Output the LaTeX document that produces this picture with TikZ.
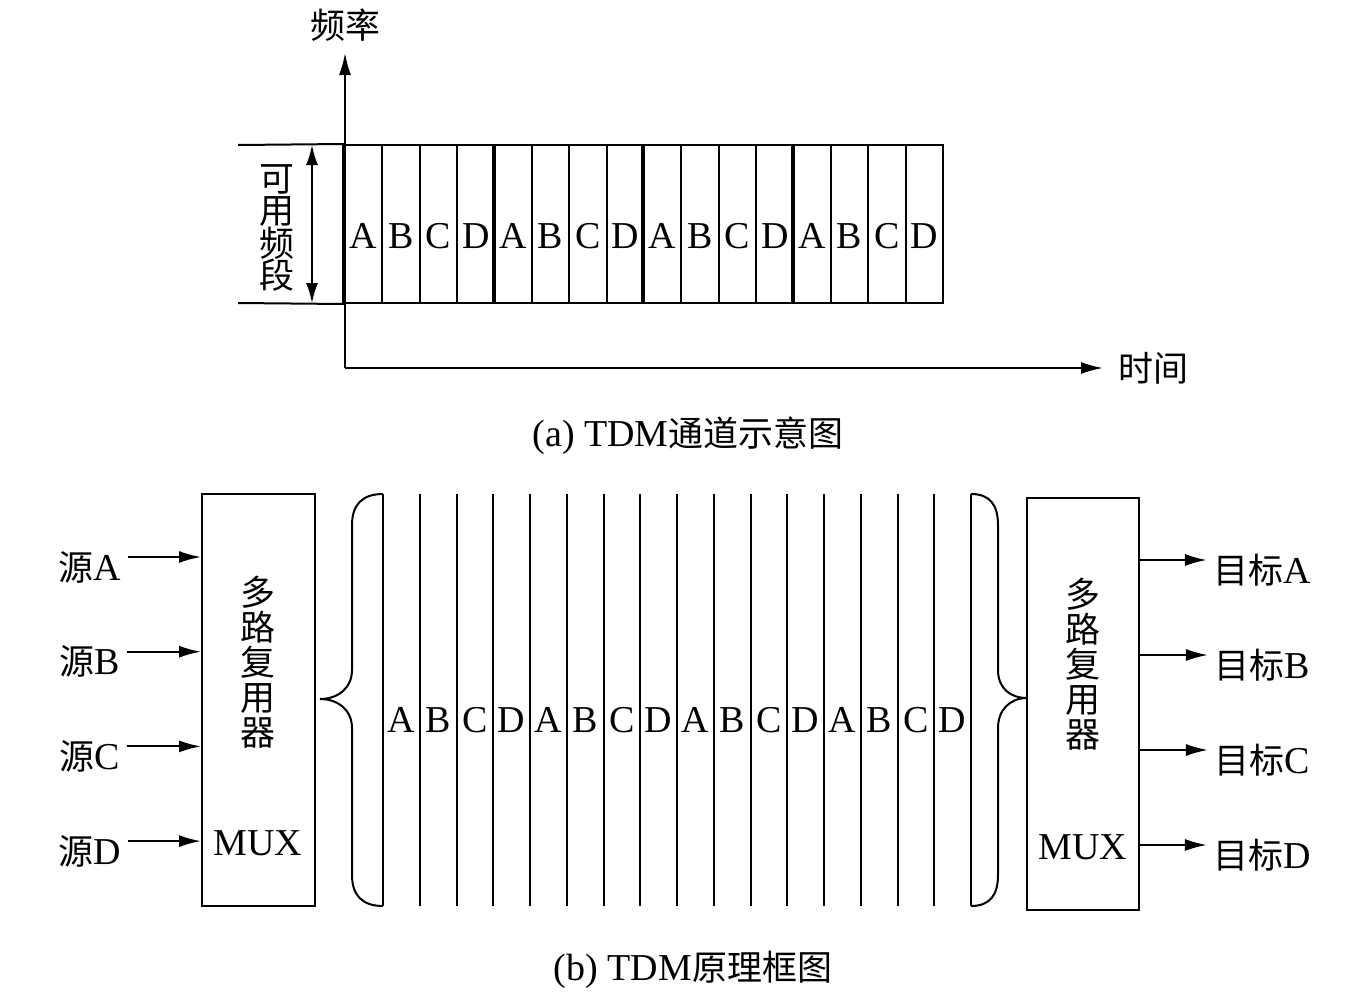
\documentclass[tikz,border=0pt]{standalone}
\usepackage{fontspec}
\setmainfont{Liberation Serif}
\newfontfamily\cjk{Noto Sans CJK SC}[Scale=0.92]
\newcommand{\zh}[1]{{\cjk #1}}
\usetikzlibrary{positioning, arrows.meta, calc}
\tikzstyle{every node}=[font=\fontsize{19}{22}\selectfont]
\tikzstyle{thin}=[line width=1pt, draw=black]
\tikzstyle{thickline}=[line width=2pt, draw=black]
\tikzstyle{arrow}=[-{Latex[length=11pt,width=6pt]}, line width=1pt]
\tikzstyle{dblarrow}=[{Latex[length=10pt,width=6pt]}-{Latex[length=10pt,width=6pt]}, line width=1pt]
\tikzstyle{cell}=[rectangle, thin, minimum width=18.69pt, minimum height=79pt, inner sep=0pt]
\tikzstyle{letter}=[inner sep=0pt, text height=12.6pt, text depth=0pt]
\tikzstyle{muxbox}=[rectangle, thin, minimum width=56.5pt, minimum height=206pt, inner sep=0pt]
\tikzstyle{vtext}=[align=center, inner sep=0pt, font=\fontsize{19}{17.5}\selectfont]
\tikzstyle{iolabel}=[inner sep=3pt, text height=23pt, text depth=0pt]

\begin{document}
\begin{tikzpicture}[x=0.5pt, y=-0.5pt]
      \useasboundingbox (0,0) rectangle (1346,996);
      % (a) channel sketch
      \coordinate (origin) at (345,368);
      \coordinate (fTip) at (345,53);
      \coordinate (tTip) at (1103,368);
      \foreach \g in {0,...,3}
        \foreach \ch [count=\k from 0] in {A,B,C,D} {
          \node (ta-\g-\ch) [cell] at ({345+37.375*(4*\g+\k+0.5)},224) {};
          \node [letter] at ([yshift=-6pt]ta-\g-\ch.center) {\ch};
        }
      \foreach \g in {0,...,3}
        \draw [thickline] (ta-\g-A.north west) -- (ta-\g-A.south west);
      \coordinate (bandTL) at (238,145);
      \coordinate (bandBL) at (238,303);
      \draw [thin] (bandTL) -- (ta-0-A.north west);
      \draw [thin] (bandBL) -- (ta-0-A.south west);
      \coordinate (bandTop) at (312,145);
      \coordinate (bandBot) at (312,303);
      \draw [dblarrow] (bandTop) -- (bandBot);
      \node (bandLabel) [vtext, font=\fontsize{19}{16.25}\selectfont] at (277,228)
        {\zh{可}\\\zh{用}\\\zh{频}\\\zh{段}};
      \draw [arrow] (origin) -- (fTip);
      \draw [arrow] (origin) -- (tTip);
      \node (freq) at (345,25) {\zh{频率}};
      \node (time) [right=4pt of tTip] {\zh{时间}};
      \node (capA) at (688,436) {(a) TDM\zh{通道示意图}};

      % (b) block diagram
      \node (muxL) [muxbox] at (258.5,700) {};
      \node (muxR) [muxbox, minimum width=56pt] at (1083,703.5) {};
      \node (muxLtxt) [vtext] at (258,662) {\zh{多}\\\zh{路}\\\zh{复}\\\zh{用}\\\zh{器}};
      \node (muxRtxt) [vtext] at (1083,664) {\zh{多}\\\zh{路}\\\zh{复}\\\zh{用}\\\zh{器}};
      \node (muxLname) at (258,843) {MUX};
      \node (muxRname) at (1083,847) {MUX};
      \foreach \s [count=\k from 0] in {A,B,C,D} {
        \node (src\s) [iolabel] at (90,{557+94.7*\k}) {\zh{源}\s};
        \draw [arrow] (src\s.east) -- (src\s.east -| muxL.west);
        \node (dst\s) [iolabel] at (1262,{560+95*\k}) {\zh{目标}\s};
        \draw [arrow] (dst\s.west -| muxR.east) -- (dst\s.west);
      }
      \foreach \k in {0,...,16}
        \draw [thin] ({383+36.75*\k},494) -- ({383+36.75*\k},906);
      \foreach \g in {0,...,3}
        \foreach \ch [count=\k from 0] in {A,B,C,D}
          \node (tb-\g-\ch) [letter] at ({383+36.75*(4*\g+\k+0.5)},719.5) {\ch};
      % braces
      \draw [thin] (383,494) .. controls (362,494) and (352,505) .. (352,525)
        -- (352,670) .. controls (352,688) and (338,699) .. (320,699)
        .. controls (338,699) and (352,710) .. (352,728)
        -- (352,875) .. controls (352,895) and (362,906) .. (383,906);
      \draw [thin] (971,494) .. controls (990,494) and (998,505) .. (998,525)
        -- (998,670) .. controls (998,688) and (1010,698) .. (1027,698)
        .. controls (1010,698) and (998,710) .. (998,728)
        -- (998,875) .. controls (998,895) and (990,906) .. (971,906);
      \node (capB) at (693,970) {(b) TDM\zh{原理框图}};
    \end{tikzpicture}
\end{document}
